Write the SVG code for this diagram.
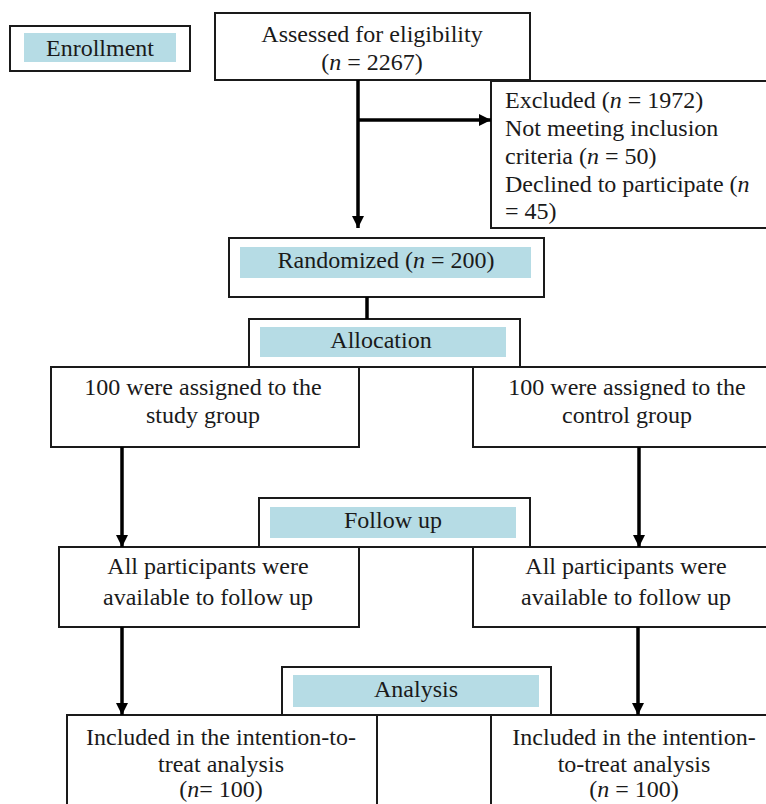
<svg xmlns="http://www.w3.org/2000/svg" width="766" height="804" viewBox="0 0 766 804">
<defs>
<style>
.box{fill:#fff;stroke:#1a1a1a;stroke-width:2}
.hdr{fill:#b6dce5;stroke:none}
.t{font-family:"Liberation Serif","Times New Roman",serif;font-size:24px;fill:#1a1a1a}
.c{text-anchor:middle}
.i{font-style:italic}
.ln{stroke:#000;stroke-width:3.5;fill:none}
</style>
<marker id="ah" viewBox="0 0 12 12" refX="12" refY="6" markerWidth="12" markerHeight="12" markerUnits="userSpaceOnUse" orient="auto">
<path d="M0,0 L12,6 L0,12 Z" fill="#000"/>
</marker>
</defs>
<rect width="766" height="804" fill="#fff"/>

<g id="enrollment">
<rect class="box" x="10" y="26" width="180" height="45"/>
<rect class="hdr" x="24" y="33" width="152" height="29"/>
<text class="t c" x="100" y="56">Enrollment</text>
</g>

<g id="assessed">
<rect class="box" x="215" y="13" width="315" height="67"/>
<text class="t c" x="372" y="42">Assessed for eligibility</text>
<text class="t c" x="372" y="70">(<tspan class="i">n</tspan> = 2267)</text>
</g>

<g id="excluded">
<rect class="box" x="491" y="81" width="300" height="147"/>
<text class="t" x="505" y="108">Excluded (<tspan class="i">n</tspan> = 1972)</text>
<text class="t" x="505" y="136">Not meeting inclusion</text>
<text class="t" x="505" y="164">criteria (<tspan class="i">n</tspan> = 50)</text>
<text class="t" x="505" y="192">Declined to participate (<tspan class="i">n</tspan></text>
<text class="t" x="505" y="219">= 45)</text>
</g>

<g id="randomized">
<rect class="box" x="229" y="238" width="315" height="59"/>
<rect class="hdr" x="240" y="247" width="291" height="31"/>
<text class="t c" x="386" y="268">Randomized (<tspan class="i">n</tspan> = 200)</text>
</g>

<g id="allocation">
<rect class="box" x="249" y="319" width="271" height="48"/>
<rect class="hdr" x="260" y="327" width="246" height="30"/>
<text class="t c" x="381" y="348">Allocation</text>
</g>

<g id="assigned-study">
<rect class="box" x="51" y="367" width="308" height="80"/>
<text class="t c" x="203" y="395">100 were assigned to the</text>
<text class="t c" x="203" y="423">study group</text>
</g>

<g id="assigned-control">
<rect class="box" x="473" y="367" width="310" height="80"/>
<text class="t c" x="627" y="395">100 were assigned to the</text>
<text class="t c" x="627" y="423">control group</text>
</g>

<g id="followup">
<rect class="box" x="259" y="498" width="271" height="49"/>
<rect class="hdr" x="270" y="507" width="246" height="31"/>
<text class="t c" x="393" y="528">Follow up</text>
</g>

<g id="followup-study">
<rect class="box" x="59" y="547" width="300" height="80"/>
<text class="t c" x="208" y="574">All participants were</text>
<text class="t c" x="208" y="605">available to follow up</text>
</g>

<g id="followup-control">
<rect class="box" x="473" y="547" width="310" height="80"/>
<text class="t c" x="626" y="574">All participants were</text>
<text class="t c" x="626" y="605">available to follow up</text>
</g>

<g id="analysis">
<rect class="box" x="282" y="667" width="269" height="48"/>
<rect class="hdr" x="293" y="675" width="246" height="32"/>
<text class="t c" x="416" y="697">Analysis</text>
</g>

<g id="analysis-study">
<rect class="box" x="67" y="715" width="310" height="110"/>
<text class="t c" x="221" y="745">Included in the intention-to-</text>
<text class="t c" x="221" y="772">treat analysis</text>
<text class="t c" x="221" y="797">(<tspan class="i">n</tspan>= 100)</text>
</g>

<g id="analysis-control">
<rect class="box" x="491" y="715" width="300" height="110"/>
<text class="t c" x="634" y="745">Included in the intention-</text>
<text class="t c" x="634" y="772">to-treat analysis</text>
<text class="t c" x="634" y="797">(<tspan class="i">n</tspan> = 100)</text>
</g>

<g id="connectors">
<line class="ln" x1="358" y1="80" x2="358" y2="228" marker-end="url(#ah)"/>
<line class="ln" x1="358" y1="120" x2="491" y2="120" marker-end="url(#ah)"/>
<line class="ln" x1="367" y1="297" x2="367" y2="319"/>
<line class="ln" x1="122" y1="447" x2="122" y2="547" marker-end="url(#ah)"/>
<line class="ln" x1="639" y1="447" x2="639" y2="547" marker-end="url(#ah)"/>
<line class="ln" x1="122" y1="627" x2="122" y2="715" marker-end="url(#ah)"/>
<line class="ln" x1="638" y1="627" x2="638" y2="715" marker-end="url(#ah)"/>
</g>
</svg>
